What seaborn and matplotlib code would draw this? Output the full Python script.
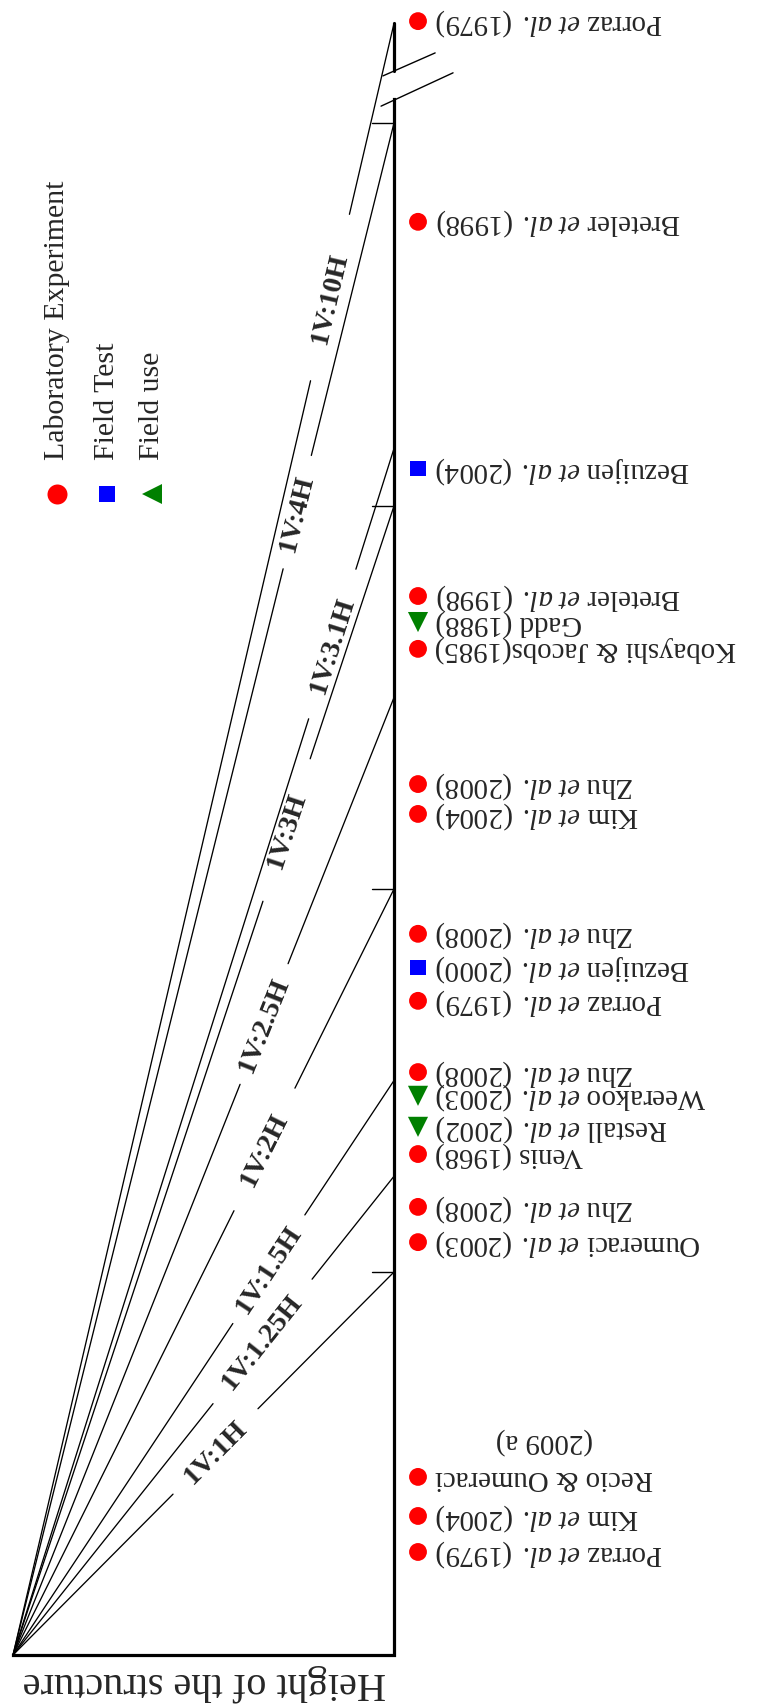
import warnings
warnings.filterwarnings("ignore")

import numpy as np
import pandas as pd
import matplotlib
matplotlib.use("Agg")
import matplotlib.pyplot as plt
import seaborn as sns

# Slopes fanning out from the toe (run in units of structure height)
slope_names = ["1V:1H", "1V:1.25H", "1V:1.5H", "1V:2H", "1V:2.5H",
               "1V:3H", "1V:3.1H", "1V:4H", "1V:10H"]
slope_ends = [1.0, 1.25, 1.5, 2.0, 2.5, 3.0, 3.15, 4.0, 4.26]  # 10H runs into the break
slope_ticks = [1, 2, 3, 4]

# Studies listed beside the axis
studies = [
    "Porraz et al. (1979)", "Breteler et al. (1998)", "Bezuijen et al. (2004)",
    "Breteler et al. (1998)", "Gadd (1988)", "Kobayshi & Jacobs(1985)",
    "Zhu et al. (2008)", "Kim et al. (2004)", "Zhu et al. (2008)",
    "Bezuijen et al. (2000)", "Porraz et al. (1979)", "Zhu et al. (2008)",
    "Weerakoo et al. (2003)", "Restall et al. (2002)", "Venis (1968)",
    "Zhu et al. (2008)", "Oumeraci et al. (2003)", "Recio & Oumeraci\n(2009 a)",
    "Kim et al. (2004)", "Porraz et al. (1979)",
]
study_kind = [
    "Laboratory Experiment", "Laboratory Experiment", "Field Test",
    "Laboratory Experiment", "Field use", "Laboratory Experiment",
    "Laboratory Experiment", "Laboratory Experiment", "Laboratory Experiment",
    "Field Test", "Laboratory Experiment", "Laboratory Experiment",
    "Field use", "Field use", "Laboratory Experiment",
    "Laboratory Experiment", "Laboratory Experiment", "Laboratory Experiment",
    "Laboratory Experiment", "Laboratory Experiment",
]
study_pos = [4.266, 3.742, 3.097, 2.765, 2.697, 2.627, 2.274, 2.196, 1.883,
             1.796, 1.708, 1.522, 1.460, 1.379, 1.308, 1.170, 1.078, 0.465,
             0.363, 0.269]

kinds = ["Laboratory Experiment", "Field Test", "Field use"]
palette = {"Laboratory Experiment": "#ff0000", "Field Test": "#0000ff", "Field use": "#008000"}
markers = {"Laboratory Experiment": "o", "Field Test": "s", "Field use": "v"}
sizes = {"Laboratory Experiment": 165, "Field Test": 117, "Field use": 210}

# where each slope line is interrupted for its label (fraction along the line)
label_gaps = [(0.42, 0.643), (0.525, 0.785), (0.577, 0.766), (0.58, 0.74),
              (0.596, 0.722), (0.656, 0.78), (0.776, 0.90), (0.709, 0.783),
              (0.781, 0.883)]

sns.set_style("white")
plt.rcParams["font.family"] = ["Liberation Serif", "DejaVu Serif"]
plt.rcParams["mathtext.fontset"] = "custom"
plt.rcParams["mathtext.rm"] = "Liberation Serif"
plt.rcParams["mathtext.it"] = "Liberation Serif:italic"

fig = plt.figure(figsize=(7.62, 17.08), dpi=100)
ax = fig.add_axes([0, 0, 1, 1])

df = pd.DataFrame({"x": 1.063, "pos": study_pos, "kind": study_kind})
sns.scatterplot(data=df, x="x", y="pos", hue="kind", style="kind", size="kind",
                palette=palette, markers=markers, sizes=sizes, linewidth=0,
                legend=False, ax=ax, zorder=3)

ax.set_xlim(-13 / 381, 749 / 381)
ax.set_ylim(-52 / 383, 1656 / 383)
ax.axis("off")

# fan of slope lines, broken where the label sits
lw_thin = 0.95
for name, end, (t0, t1) in zip(slope_names, slope_ends, label_gaps):
    ax.plot([0, t0], [0, t0 * end], color="black", lw=lw_thin)
    ax.plot([t1, 1], [t1 * end, end], color="black", lw=lw_thin)
    p0 = ax.transData.transform((0, 0))
    p1 = ax.transData.transform((1, end))
    ang = np.degrees(np.arctan2(p1[1] - p0[1], p1[0] - p0[0]))
    tm = (t0 + t1) / 2
    ax.text(tm, tm * end, name, rotation=ang, rotation_mode="anchor",
            ha="center", va="center", fontsize=20.5, fontweight="bold")

# frame: base (structure height) and the run axis with a break near the top
ax.plot([0, 1, 1], [0, 0, 4.063], color="black", lw=2.3,
        solid_joinstyle="miter", solid_capstyle="projecting")
ax.plot([1, 1], [4.136, slope_ends[-1]], color="black", lw=2.3)
for t in slope_ticks:
    ax.plot([0.942, 1.0], [t, t], color="black", lw=1.0)
ax.plot([0.966, 1.155], [4.044, 4.131], color="black", lw=1.0)
ax.plot([0.971, 1.108], [4.123, 4.183], color="black", lw=1.0)

ax.text(0.501, -0.0705, "Height of the structure", rotation=180,
        ha="center", va="center", fontsize=29)

# study labels (upside down, to the right of the markers)
renderer = fig.canvas.get_renderer()
for name, y in zip(studies, study_pos):
    first, _, second = name.partition("\n")
    txt = first.replace(" et al. ", r" $\mathit{et\ al.}\;$")
    t = ax.text(1.108, y, txt, rotation=180, ha="left", va="center", fontsize=20.8)
    if second:
        bb = t.get_window_extent(renderer)
        cx = ax.transData.inverted().transform(((bb.x0 + bb.x1) / 2, 0))[0]
        ax.text(cx, y + 36 / 383, second, rotation=180, ha="center", va="center",
                fontsize=20.8)

# legend, turned on its side
leg_x = [0.115, 0.247, 0.365]
leg_marker = {"Laboratory Experiment": ("o", 14.4), "Field Test": ("s", 11.5),
              "Field use": ("<", 14.4)}
for k, lx in zip(kinds, leg_x):
    m, ms = leg_marker[k]
    ax.plot([lx], [3.031], marker=m, ms=ms, color=palette[k], mew=0, ls="none")
    ax.text(lx, 3.123, k, rotation=90, ha="center", va="bottom", fontsize=21.5)

fig.savefig("out.png", dpi=100)
plt.close(fig)
